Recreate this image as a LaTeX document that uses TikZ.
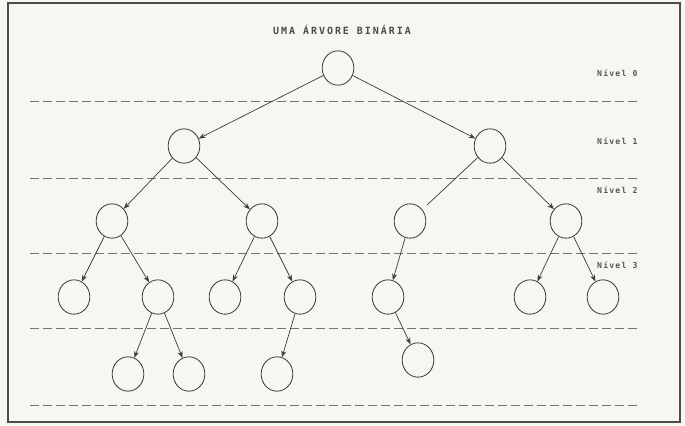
\documentclass[tikz,border=0pt]{standalone}
\usepackage{fontspec}
\usepackage{xcolor}
\usetikzlibrary{arrows.meta,shapes.geometric}
\newfontfamily\dotfont{DejaVu Sans Mono}
\definecolor{paper}{RGB}{246,246,243}
\definecolor{ink}{RGB}{60,60,60}

\begin{document}
\begin{tikzpicture}[x=0.03cm, y=-0.03cm,
  >={Stealth[length=2mm,width=1.5mm]},
  nd/.style={ellipse, draw=ink, line width=0.7pt, minimum width=0.95cm, minimum height=1.03cm, inner sep=0pt},
  edge/.style={->, draw=ink, line width=0.6pt},
  plain/.style={draw=ink, line width=0.6pt},
  sep/.style={draw=black!55, line width=0.85pt, dash pattern=on 0.27cm off 0.12cm},
  lvl/.style={anchor=west, inner sep=0pt, text=black!65, font=\dotfont\bfseries\fontsize{7}{8}\selectfont\addfontfeature{LetterSpace=14}},
  ttl/.style={inner sep=0pt, text=black!70, font=\dotfont\bfseries\fontsize{8.5}{10}\selectfont\addfontfeature{LetterSpace=20}}]
\useasboundingbox[fill=paper] (0,0) rectangle (685,425);
\draw[line width=1.3pt, black!70] (8,3) rectangle (680,422);
\node[ttl] (title) at (342,30) {UMA ÁRVORE BINÁRIA};
% niveis
\node[lvl] (n0) at (597,73) {Nível 0};
\node[lvl] (n1) at (597,141) {Nível 1};
\node[lvl] (n2) at (597,190) {Nível 2};
\node[lvl] (n3) at (597,265) {Nível 3};
\foreach \y/\nm in {101/s1,178/s2,253/s3,328/s4,405/s5}{
  \coordinate (\nm a) at (30,\y); \coordinate (\nm b) at (638,\y);
  \draw[sep] (\nm a) -- (\nm b);
}
% nos
\node[nd] (r) at (338,68) {};
\node[nd] (a) at (184,146) {};
\node[nd] (b) at (490,146) {};
\node[nd] (aa) at (112,221) {};
\node[nd] (ab) at (262,221) {};
\node[nd] (ba) at (410,221) {};
\node[nd] (bb) at (566,221) {};
\node[nd] (aaa) at (74,297) {};
\node[nd] (aab) at (158,297) {};
\node[nd] (aba) at (225,297) {};
\node[nd] (abb) at (300,297) {};
\node[nd] (baa) at (388,297) {};
\node[nd] (bba) at (530,297) {};
\node[nd] (bbb) at (603,297) {};
\node[nd] (aaba) at (128,374) {};
\node[nd] (aabb) at (189,374) {};
\node[nd] (abba) at (277,374) {};
\node[nd] (baab) at (418,360) {};
% arestas
\draw[edge] (r) -- (a); \draw[edge] (r) -- (b);
\draw[edge] (a) -- (aa); \draw[edge] (a) -- (ab);
\draw[plain, shorten >=0.2cm] (b) -- (ba); \draw[edge] (b) -- (bb);
\draw[edge] (aa) -- (aaa); \draw[edge] (aa) -- (aab);
\draw[edge] (ab) -- (aba); \draw[edge] (ab) -- (abb);
\draw[edge] (ba) -- (baa);
\draw[edge] (bb) -- (bba); \draw[edge] (bb) -- (bbb);
\draw[edge] (aab) -- (aaba); \draw[edge] (aab) -- (aabb);
\draw[edge] (abb) -- (abba);
\draw[edge] (baa) -- (baab);
\end{tikzpicture}
\end{document}
